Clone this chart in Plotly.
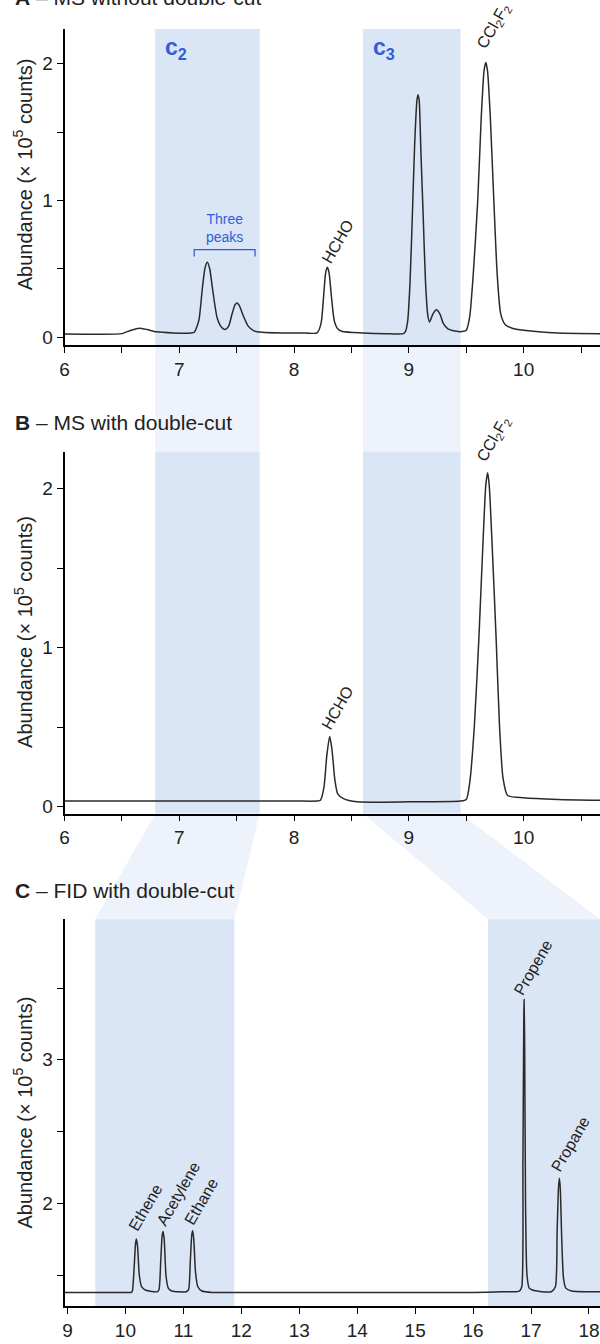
import plotly.graph_objects as go

# ---------------- data ----------------
# Panel A - MS without double-cut
a_time = [6.0, 6.3, 6.5, 6.58, 6.65, 6.72, 6.8, 6.95, 7.1,
          7.13, 7.17, 7.20, 7.225, 7.244, 7.265, 7.29, 7.33, 7.37, 7.40,
          7.43, 7.46, 7.485, 7.50, 7.52, 7.56, 7.60, 7.65, 7.72, 7.9, 8.1,
          8.20, 8.235, 8.26, 8.275, 8.29, 8.305, 8.325, 8.35, 8.38, 8.42, 8.6, 8.8, 8.95,
          8.97, 8.99, 9.01, 9.03, 9.05, 9.07, 9.08, 9.09, 9.105, 9.125, 9.145, 9.165,
          9.18, 9.21, 9.24, 9.27, 9.30, 9.34, 9.40, 9.46,
          9.50, 9.53, 9.56, 9.60, 9.63, 9.655, 9.67, 9.685, 9.71, 9.74, 9.77, 9.80,
          9.84, 9.90, 10.0, 10.3, 10.67]
a_abund = [0.022, 0.02, 0.025, 0.05, 0.065, 0.055, 0.038, 0.03, 0.03,
           0.035, 0.12, 0.35, 0.51, 0.547, 0.50, 0.35, 0.14, 0.07, 0.055,
           0.08, 0.17, 0.235, 0.25, 0.235, 0.15, 0.08, 0.045, 0.035, 0.03, 0.03,
           0.03, 0.10, 0.33, 0.47, 0.51, 0.47, 0.30, 0.12, 0.06, 0.04, 0.03, 0.025, 0.025,
           0.04, 0.12, 0.40, 0.88, 1.40, 1.73, 1.774, 1.73, 1.35, 0.88, 0.40, 0.16,
           0.11, 0.17, 0.20, 0.17, 0.10, 0.06, 0.045, 0.04,
           0.05, 0.15, 0.45, 1.0, 1.6, 1.95, 2.01, 1.95, 1.6, 1.0, 0.45, 0.17,
           0.09, 0.065, 0.05, 0.03, 0.025]

# Panel B - MS with double-cut
b_time = [6.0, 7.0, 8.0, 8.2,
          8.23, 8.26, 8.285, 8.31, 8.33, 8.355, 8.38, 8.43, 8.55, 9.0, 9.45,
          9.50, 9.53, 9.57, 9.61, 9.645, 9.67, 9.686, 9.70, 9.725, 9.76, 9.79, 9.82,
          9.86, 10.0, 10.3, 10.67]
b_abund = [0.035, 0.035, 0.035, 0.035,
           0.04, 0.12, 0.32, 0.44, 0.36, 0.17, 0.08, 0.05, 0.03, 0.03, 0.035,
           0.045, 0.15, 0.50, 1.06, 1.65, 2.02, 2.10, 2.02, 1.65, 1.06, 0.50, 0.18,
           0.07, 0.055, 0.045, 0.04]

# Panel C - FID with double-cut
c_time = [8.95, 9.5, 10.0, 10.1,
          10.12, 10.15, 10.175, 10.19, 10.21, 10.24, 10.28, 10.35, 10.55,
          10.58, 10.61, 10.635, 10.65, 10.67, 10.70, 10.74, 10.8, 11.05,
          11.09, 11.12, 11.145, 11.16, 11.18, 11.21, 11.25, 11.32, 11.5,
          12.0, 13.0, 14.0, 15.0, 16.0, 16.5, 16.8,
          16.84, 16.86, 16.875, 16.88, 16.89, 16.905, 16.93, 16.97, 17.1, 17.35,
          17.42, 17.45, 17.475, 17.49, 17.505, 17.53, 17.56, 17.6, 17.7, 18.19]
c_abund = [1.38, 1.38, 1.38, 1.38,
           1.39, 1.55, 1.72, 1.752, 1.70, 1.50, 1.42, 1.395, 1.385,
           1.40, 1.60, 1.78, 1.805, 1.75, 1.50, 1.41, 1.39, 1.385,
           1.40, 1.60, 1.78, 1.81, 1.75, 1.52, 1.42, 1.39, 1.38,
           1.38, 1.38, 1.38, 1.38, 1.38, 1.385, 1.39,
           1.42, 2.30, 3.30, 3.42, 3.10, 2.00, 1.50, 1.41, 1.39, 1.385,
           1.42, 1.80, 2.12, 2.176, 2.10, 1.75, 1.48, 1.41, 1.39, 1.385]

# heart-cut windows (retention time, min)
ms_windows = [(6.79, 7.70), (8.60, 9.45)]
fid_windows = [(9.48, 11.88), (16.26, 18.19)]
window_names = ["c<sub>2</sub>", "c<sub>3</sub>"]
window_name_x = [6.86, 8.67]
window_name_y = [2.11, 2.11]

# peak labels (lower-left corner of rotated text)
a_labels = ["HCHO", "CCl<sub>2</sub>F<sub>2</sub>"]
a_label_x = [8.19, 9.54]
a_label_y = [0.50, 2.06]
b_labels = ["HCHO", "CCl<sub>2</sub>F<sub>2</sub>"]
b_label_x = [8.19, 9.54]
b_label_y = [0.45, 2.125]
c_labels = ["Ethene", "Acetylene", "Ethane", "Propene", "Propane"]
c_label_x = [9.95, 10.44, 10.915, 16.60, 17.235]
c_label_y = [1.77, 1.81, 1.81, 3.41, 2.18]

# "Three peaks" bracket
bracket_x = [7.13, 7.66]
bracket_y = [0.59, 0.64]

panel_titles = ["<b>A</b> – MS without double-cut",
                "<b>B</b> – MS with double-cut",
                "<b>C</b> – FID with double-cut"]
ylabel = "Abundance (× 10<sup>5</sup> counts)"

ms_xticks = [6, 7, 8, 9, 10]
ms_yticks = [0, 1, 2]
fid_xticks = [9, 10, 11, 12, 13, 14, 15, 16, 17, 18]
fid_yticks = [2, 3]

# ---------------- layout geometry ----------------
W, H = 600, 1344
FONT = "Liberation Sans, Arial, sans-serif"
TXT = "#222222"
LINE = "#2a2a2a"
DARK = "#dae5f5"
LIGHT = "#edf2fb"
BLUE = "#2f5fd6"

def py(p):  # pixel row -> paper y
    return 1 - p / H

xdom = [60 / W, 1.0]
domA = [py(346), py(29)]
domB = [py(816), py(453)]
domC = [py(1310), py(922)]
rangeA_x = [6.0, 10.665]
rangeA_y = [-0.058, 2.255]
rangeB_y = [-0.044, 2.232]
rangeC_x = [8.949, 18.19]
rangeC_y = [1.285, 3.979]

def px_paper(x, rng):
    return xdom[0] + (x - rng[0]) / (rng[1] - rng[0]) * (xdom[1] - xdom[0])

fig = go.Figure()
trace_style = dict(mode="lines", line=dict(color=LINE, width=1.5, shape="spline", smoothing=0.6),
                   hoverinfo="skip", showlegend=False)
fig.add_trace(go.Scatter(x=a_time, y=a_abund, xaxis="x", yaxis="y", **trace_style))
fig.add_trace(go.Scatter(x=b_time, y=b_abund, xaxis="x2", yaxis="y2", **trace_style))
fig.add_trace(go.Scatter(x=c_time, y=c_abund, xaxis="x3", yaxis="y3", **trace_style))

shapes = []
for (x0, x1), (f0, f1) in zip(ms_windows, fid_windows):
    shapes.append(dict(type="rect", xref="x", yref="paper", x0=x0, x1=x1, y0=domA[0], y1=domA[1],
                       fillcolor=DARK, line_width=0, layer="below"))
    shapes.append(dict(type="rect", xref="x", yref="paper", x0=x0, x1=x1, y0=domB[1], y1=domA[0],
                       fillcolor=LIGHT, line_width=0, layer="below"))
    shapes.append(dict(type="rect", xref="x2", yref="paper", x0=x0, x1=x1, y0=domB[0], y1=domB[1],
                       fillcolor=DARK, line_width=0, layer="below"))
    bx0, bx1 = px_paper(x0, rangeA_x), px_paper(x1, rangeA_x)
    cx0, cx1 = px_paper(f0, rangeC_x), px_paper(f1, rangeC_x)
    path = f"M {bx0} {domB[0]} L {bx1} {domB[0]} L {cx1} {domC[1]} L {cx0} {domC[1]} Z"
    shapes.append(dict(type="path", xref="paper", yref="paper", path=path,
                       fillcolor=LIGHT, line_width=0, layer="below"))
    shapes.append(dict(type="rect", xref="x3", yref="paper", x0=f0, x1=f1, y0=domC[0], y1=domC[1],
                       fillcolor=DARK, line_width=0, layer="below"))

shapes.append(dict(type="path", xref="x", yref="y",
                   path=f"M {bracket_x[0]} {bracket_y[0]} L {bracket_x[0]} {bracket_y[1]} "
                        f"L {bracket_x[1]} {bracket_y[1]} L {bracket_x[1]} {bracket_y[0]}",
                   line=dict(color=BLUE, width=1.3)))

ann = []
for t, yp in zip(panel_titles, [-3, 424, 893]):
    ann.append(dict(text=t, xref="paper", yref="paper", x=8 / W, y=py(yp), xanchor="left",
                    yanchor="middle", showarrow=False, font=dict(size=21, color=TXT, family=FONT)))
for yp in [175, 634, 1116]:
    ann.append(dict(text=ylabel, xref="paper", yref="paper", x=18 / W, y=py(yp), xanchor="center",
                    yanchor="middle", textangle=-90, showarrow=False,
                    font=dict(size=20, color=TXT, family=FONT)))
for t, x, y in zip(window_names, window_name_x, window_name_y):
    ann.append(dict(text=f"<b>{t}</b>", xref="x", yref="y", x=x, y=y, xanchor="left", yanchor="middle",
                    showarrow=False, font=dict(size=23, color=BLUE, family=FONT)))
ann.append(dict(text="Three<br>peaks", xref="x", yref="y", x=(bracket_x[0] + bracket_x[1]) / 2,
                y=bracket_y[1] + 0.02, xanchor="center", yanchor="bottom", showarrow=False,
                font=dict(size=14, color=BLUE, family=FONT)))

def peak_labels(labels, xs, ys, xr, yr):
    for t, x, y in zip(labels, xs, ys):
        ann.append(dict(text=t, xref=xr, yref=yr, x=x, y=y, xanchor="left", yanchor="bottom",
                        textangle=-60, showarrow=False, font=dict(size=16, color=TXT, family=FONT)))

peak_labels(a_labels, a_label_x, a_label_y, "x", "y")
peak_labels(b_labels, b_label_x, b_label_y, "x2", "y2")
peak_labels(c_labels, c_label_x, c_label_y, "x3", "y3")

axis_common = dict(showline=True, linecolor="black", linewidth=1.5, ticks="outside", ticklen=6,
                   tickwidth=1.3, tickcolor="black", showgrid=False, zeroline=False,
                   tickfont=dict(size=19, color=TXT, family=FONT), fixedrange=True,
                   tickmode="array",
                   minor=dict(dtick=0.5, tick0=0, ticks="outside", ticklen=6, tickwidth=1.3,
                              tickcolor="black", showgrid=False))

fig.update_layout(
    width=W, height=H, margin=dict(l=0, r=0, t=0, b=0),
    paper_bgcolor="white", plot_bgcolor="rgba(0,0,0,0)",
    xaxis=dict(domain=xdom, range=rangeA_x, anchor="y", tickvals=ms_xticks, **axis_common),
    yaxis=dict(domain=domA, range=rangeA_y, anchor="x", tickvals=ms_yticks, **axis_common),
    xaxis2=dict(domain=xdom, range=rangeA_x, anchor="y2", tickvals=ms_xticks, **axis_common),
    yaxis2=dict(domain=domB, range=rangeB_y, anchor="x2", tickvals=ms_yticks, **axis_common),
    xaxis3=dict(domain=xdom, range=rangeC_x, anchor="y3", tickvals=fid_xticks,
                **{k: v for k, v in axis_common.items() if k != "minor"}),
    yaxis3=dict(domain=domC, range=rangeC_y, anchor="x3", tickvals=fid_yticks, **axis_common),
    shapes=shapes, annotations=ann,
)

fig.write_html("out.html", config={"displayModeBar": False},
               post_script="document.body.style.margin='0';document.body.style.overflow='hidden';")
